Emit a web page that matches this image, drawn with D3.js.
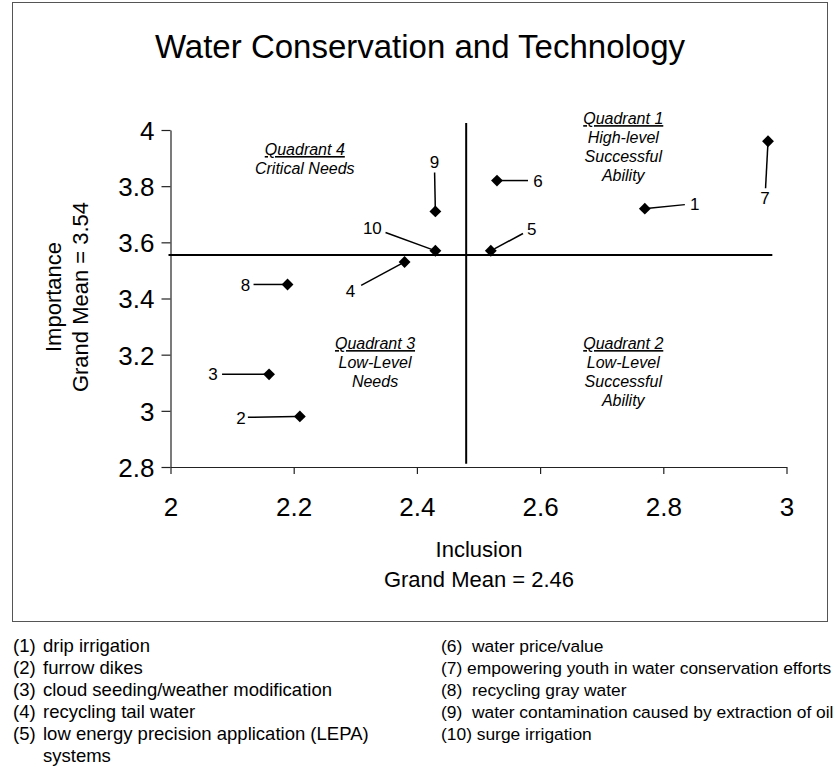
<!DOCTYPE html>
<html>
<head>
<meta charset="utf-8">
<script src="https://cdn.jsdelivr.net/npm/d3@7"></script>
<style>
  body { margin: 0; background: #fff; }
  svg { display: block; font-family: "Liberation Sans", Arial, sans-serif; }
  .tick text { font-size: 26px; }
  .quad { font-size: 16px; font-style: italic; text-anchor: middle; }
  .num { font-size: 17px; text-anchor: middle; }
  .legend { font-size: 18.5px; }
  .legend.right { font-size: 17.4px; }
</style>
</head>
<body>
<div id="chart"></div>
<script>
// data
var ids = [1, 2, 3, 4, 5, 6, 7, 8, 9, 10];
var inclusion = [2.77, 2.21, 2.16, 2.38, 2.52, 2.53, 2.97, 2.19, 2.43, 2.43];
var importance = [3.72, 2.98, 3.13, 3.53, 3.57, 3.82, 3.96, 3.45, 3.71, 3.57];
var xTicks = [2, 2.2, 2.4, 2.6, 2.8, 3];
var yTicks = [2.8, 3, 3.2, 3.4, 3.6, 3.8, 4];
var inclusionMean = 2.46;
var importanceMean = 3.54;
// where the cross lines are actually drawn
var crossX = 2.48;
var crossY = 3.555;

var legendLeft = [
  ['(1)', 'drip irrigation'],
  ['(2)', 'furrow dikes'],
  ['(3)', 'cloud seeding/weather modification'],
  ['(4)', 'recycling tail water'],
  ['(5)', 'low energy precision application (LEPA)'],
  ['', 'systems']
];
var legendRight = [
  '(6)  water price/value',
  '(7) empowering youth in water conservation efforts',
  '(8)  recycling gray water',
  '(9)  water contamination caused by extraction of oil',
  '(10) surge irrigation'
];

var quadrants = [
  { title: 'Quadrant 1', lines: ['High-level', 'Successful', 'Ability'], x: 2.735, y: 4.021 },
  { title: 'Quadrant 2', lines: ['Low-Level', 'Successful', 'Ability'], x: 2.735, y: 3.22 },
  { title: 'Quadrant 3', lines: ['Low-Level', 'Needs'], x: 2.332, y: 3.22 },
  { title: 'Quadrant 4', lines: ['Critical Needs'], x: 2.218, y: 3.911 }
];

// label placement relative to each point, pixels [dx, dy, gap]
var labelOffsets = {
  1: [50, -5, 10], 2: [-59, 1, 7], 3: [-56, 0, 9], 4: [-54, 29, 12], 5: [41, -22, 10],
  6: [41, 0, 10], 7: [-3, 57, 10], 8: [-42, 0, 8], 9: [-1, -50, 11], 10: [-63, -23, 14]
};

var width = 840, height = 768;
var svg = d3.select('#chart').append('svg')
  .attr('width', width)
  .attr('height', height);

var x = d3.scaleLinear().domain([2, 3]).range([170.5, 786.5]);
var y = d3.scaleLinear().domain([2.8, 4]).range([467, 130]);

// outer frame
svg.append('rect')
  .attr('x', 12.5).attr('y', 2.5)
  .attr('width', 815).attr('height', 619)
  .attr('fill', 'none')
  .attr('stroke', '#555')
  .attr('stroke-width', 1);

svg.append('text')
  .attr('x', 420).attr('y', 58)
  .attr('text-anchor', 'middle')
  .style('font-size', '33px')
  .text('Water Conservation and Technology');

// axes
var yAxis = svg.append('g')
  .attr('transform', 'translate(' + x(2) + ',0)')
  .call(d3.axisLeft(y).tickValues(yTicks).tickFormat(d3.format('')).tickSize(9).tickSizeOuter(0).tickPadding(7));

var xAxis = svg.append('g')
  .attr('transform', 'translate(0,' + y(2.8) + ')')
  .call(d3.axisBottom(x).tickValues(xTicks).tickFormat(d3.format('')).tickSize(7).tickSizeOuter(0).tickPadding(24));

[xAxis, yAxis].forEach(function(g) {
  g.attr('font-family', null).attr('font-size', null);
  g.selectAll('path, line').attr('stroke', '#222').attr('stroke-width', 1.2);
  g.selectAll('text').attr('fill', '#000');
});
yAxis.selectAll('text').attr('dy', '0.36em');

// axis titles
svg.append('text')
  .attr('transform', 'translate(61,297) rotate(-90)')
  .attr('text-anchor', 'middle')
  .style('font-size', '22px')
  .text('Importance');
svg.append('text')
  .attr('transform', 'translate(88,297) rotate(-90)')
  .attr('text-anchor', 'middle')
  .style('font-size', '22px')
  .text('Grand Mean = ' + importanceMean);

svg.append('text')
  .attr('x', 479).attr('y', 557)
  .attr('text-anchor', 'middle')
  .style('font-size', '22px')
  .text('Inclusion');
svg.append('text')
  .attr('x', 479).attr('y', 587)
  .attr('text-anchor', 'middle')
  .style('font-size', '22px')
  .text('Grand Mean = ' + inclusionMean);

// cross lines
svg.append('line')
  .attr('x1', x(2) - 2).attr('x2', x(2.977))
  .attr('y1', y(crossY)).attr('y2', y(crossY))
  .attr('stroke', '#000').attr('stroke-width', 2);
svg.append('line')
  .attr('x1', x(crossX)).attr('x2', x(crossX))
  .attr('y1', y(4.025)).attr('y2', y(2.812))
  .attr('stroke', '#000').attr('stroke-width', 2);

// quadrant notes
quadrants.forEach(function(q) {
  var t = svg.append('text')
    .attr('class', 'quad')
    .attr('x', x(q.x))
    .attr('y', y(q.y));
  t.append('tspan')
    .attr('x', x(q.x))
    .style('text-decoration', 'underline')
    .text(q.title);
  q.lines.forEach(function(line) {
    t.append('tspan')
      .attr('x', x(q.x))
      .attr('dy', 19)
      .text(line);
  });
});

// points with numbered leaders
var points = ids.map(function(id, i) {
  return { id: id, x: inclusion[i], y: importance[i] };
});

var marks = svg.append('g').selectAll('g')
  .data(points)
  .enter()
  .append('g');

marks.each(function(d) {
  var g = d3.select(this);
  var px = x(d.x), py = y(d.y);
  var off = labelOffsets[d.id];
  var lx = px + off[0], ly = py + off[1];
  var len = Math.sqrt(off[0] * off[0] + off[1] * off[1]);
  var ux = off[0] / len, uy = off[1] / len;

  g.append('line')
    .attr('x1', px + ux * 4).attr('y1', py + uy * 4)
    .attr('x2', lx - ux * off[2]).attr('y2', ly - uy * off[2])
    .attr('stroke', '#000')
    .attr('stroke-width', 1.5);

  g.append('text')
    .attr('class', 'num')
    .attr('x', lx).attr('y', ly)
    .attr('dy', '0.36em')
    .text(d.id);

  g.append('path')
    .attr('d', d3.symbol(d3.symbolSquare, 70)())
    .attr('transform', 'translate(' + px + ',' + py + ') rotate(45)')
    .attr('fill', '#000');
});

// legend under the frame
var left = svg.append('g').selectAll('text')
  .data(legendLeft)
  .enter()
  .append('text')
  .attr('class', 'legend')
  .attr('y', function(d, i) { return 652 + i * 22; });
left.append('tspan').attr('x', 13).text(function(d) { return d[0]; });
left.append('tspan').attr('x', 43).text(function(d) { return d[1]; });

svg.append('g').selectAll('text')
  .data(legendRight)
  .enter()
  .append('text')
  .attr('class', 'legend right')
  .attr('x', 441)
  .attr('y', function(d, i) { return 652 + i * 22; })
  .style('white-space', 'pre')
  .text(function(d) { return d; });
</script>
</body>
</html>
